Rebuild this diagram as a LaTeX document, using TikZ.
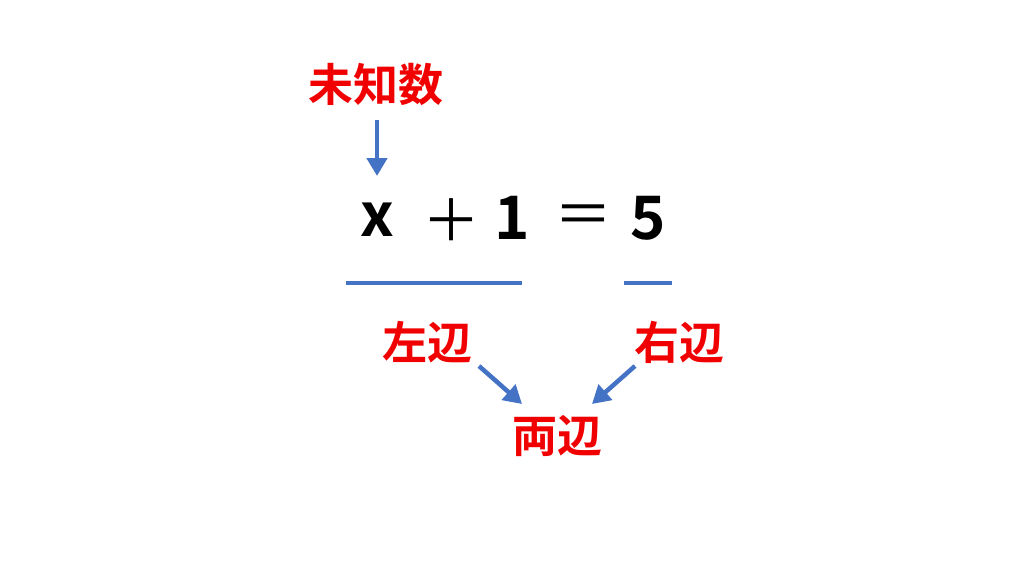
\documentclass[tikz,border=0pt]{standalone}
\usepackage{fontspec}
\newfontfamily\cjk{Noto Sans CJK JP}
\newfontfamily\cjkb{Noto Sans CJK JP Bold}
\usetikzlibrary{arrows.meta}
\definecolor{myblue}{HTML}{4472C4}
\definecolor{myred}{HTML}{F00000}
\tikzset{
  lbl/.style={inner sep=0pt, text=myred, font=\cjkb\fontsize{45}{45}\selectfont},
  eq/.style={inner sep=0pt, text=black, font=\cjkb\fontsize{60}{60}\selectfont},
  eqthin/.style={inner sep=0pt, text=black, font=\cjk\fontsize{58}{58}\selectfont},
  arr/.style={draw=myblue, line width=4.5pt, -{Triangle[length=18pt,width=20pt]}},
  uline/.style={draw=myblue, line width=4pt}
}
\begin{document}
\begin{tikzpicture}[x=1pt,y=-1pt]
\useasboundingbox (0,0) rectangle (1024,576);
\fill[white] (0,0) rectangle (1024,576);
\node[lbl] (unk) at (376,84) {未知数};
\node[eq] (x) at (377,220) {x};
\node[eqthin] (plus) at (451,220) {＋};
\node[eq] (one) at (512,218) {1};
\node[eqthin] (equal) at (583,220) {＝};
\node[eq] (five) at (648,218) {5};
\coordinate (a1) at (377,120);
\coordinate (a2) at (377,176);
\draw[arr] (a1) -- (a2);
\coordinate (l1) at (346,283);
\coordinate (l2) at (522,283);
\coordinate (r1) at (624,283);
\coordinate (r2) at (672,283);
\draw[uline] (l1) -- (l2);
\draw[uline] (r1) -- (r2);
\node[lbl] (left) at (427,342) {左辺};
\node[lbl] (right) at (679,342) {右辺};
\node[lbl] (both) at (557,436) {両辺};
\coordinate (lb) at (479,366);
\coordinate (le) at (522,404);
\coordinate (rb) at (635,366);
\coordinate (re) at (592,404);
\draw[arr] (lb) -- (le);
\draw[arr] (rb) -- (re);
\end{tikzpicture}
\end{document}
